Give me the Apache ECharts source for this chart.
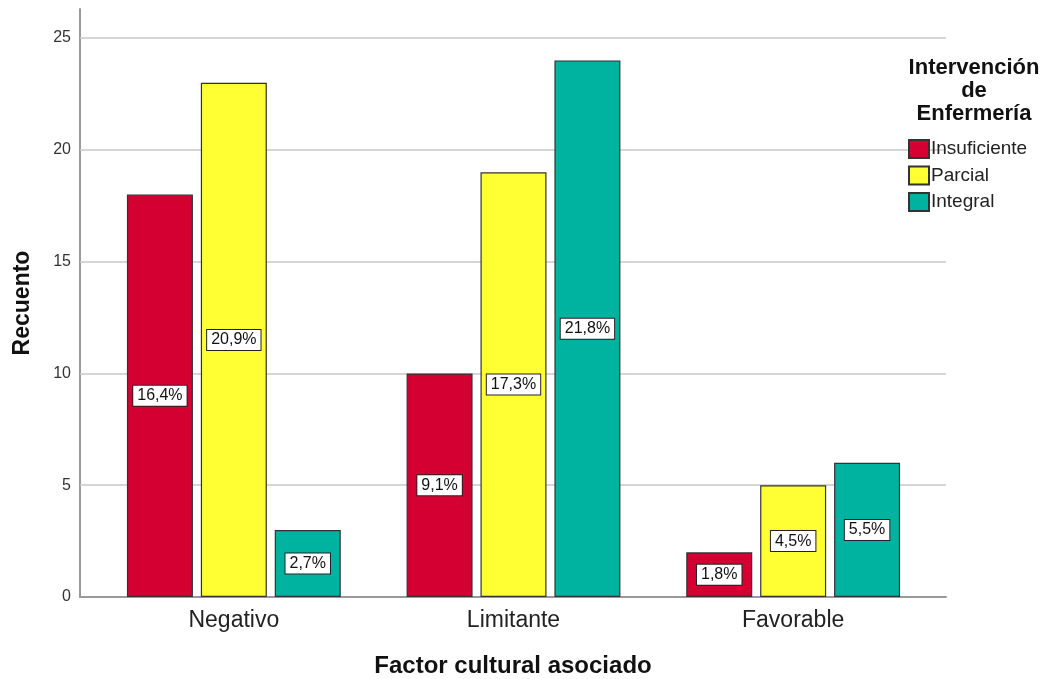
<!DOCTYPE html>
<html>
<head>
<meta charset="utf-8">
<script src="https://cdn.jsdelivr.net/npm/echarts@6/dist/echarts.min.js"></script>
<style>html,body{margin:0;padding:0;background:#fff}#c{width:1051px;height:679px}</style>
</head>
<body>
<div id="c"></div>
<script>
const categories = ['Negativo', 'Limitante', 'Favorable'];
const seriesNames = ['Insuficiente', 'Parcial', 'Integral'];
const insuficiente = [18, 10, 2];
const parcial = [23, 19, 5];
const integral = [3, 24, 6];
const yTicks = [0, 5, 10, 15, 20, 25];
const colors = ['#D40032', '#FFFF33', '#00B3A0'];

const allData = [insuficiente, parcial, integral];
const total = allData.flat().reduce((a, b) => a + b, 0);
const FONT = '"Liberation Sans", Arial, sans-serif';
const YMAX = 26.3;

const chart = echarts.init(document.getElementById('c'));

const barSeries = allData.map((d, i) => ({
  name: seriesNames[i],
  type: 'bar',
  xAxisIndex: 1,
  yAxisIndex: 1,
  data: d,
  barWidth: 66,
  barGap: '12%',
  itemStyle: { color: colors[i], borderColor: '#333', borderWidth: 1.2 },
  label: {
    show: true,
    position: 'inside',
    formatter: p => (p.value / total * 100).toFixed(1).replace('.', ',') + '%',
    backgroundColor: '#fff',
    borderColor: '#222',
    borderWidth: 1,
    padding: [2, 4, 1, 4],
    fontSize: 16,
    lineHeight: 17,
    fontFamily: FONT,
    color: '#111'
  },
  emphasis: { disabled: true },
  z: 10
}));

chart.setOption({
  animation: false,
  textStyle: { fontFamily: FONT },
  title: {
    text: 'Intervención\nde\nEnfermería',
    left: 969,
    top: 51,
    textAlign: 'center',
    textStyle: { fontSize: 22, fontWeight: 'bold', color: '#111', lineHeight: 23, fontFamily: FONT }
  },
  legend: {
    orient: 'vertical',
    left: 908,
    top: 139,
    padding: 0,
    itemWidth: 20,
    itemHeight: 18,
    itemGap: 6.5,
    icon: 'rect',
    data: seriesNames,
    textStyle: { fontSize: 19, color: '#222', fontFamily: FONT, padding: [4, 0, 0, -3] },
    selectedMode: false
  },
  grid: [
    { left: 80, right: 105, top: 9, bottom: 82, containLabel: false, outerBoundsMode: 'none' },
    { left: 94, right: 118, top: 9, bottom: 82, containLabel: false, outerBoundsMode: 'none' }
  ],
  xAxis: [
    {
      gridIndex: 0, type: 'value', min: 0, max: 1,
      axisLine: { show: true, lineStyle: { color: '#999', width: 2 } },
      axisTick: { show: false }, axisLabel: { show: false }, splitLine: { show: false },
      name: 'Factor cultural asociado', nameLocation: 'middle', nameGap: 57,
      nameTextStyle: { fontSize: 24, fontWeight: 'bold', color: '#111', fontFamily: FONT }
    },
    {
      gridIndex: 1, type: 'category', data: categories,
      axisLine: { show: false }, axisTick: { show: false },
      axisLabel: { fontSize: 23, color: '#222', margin: 12, fontFamily: FONT }
    }
  ],
  yAxis: [
    {
      gridIndex: 0, type: 'value', min: 0, max: YMAX, interval: 5,
      axisLine: { show: true, lineStyle: { color: '#999', width: 2 } },
      axisTick: { show: false },
      axisLabel: { fontSize: 16, color: '#333', margin: 9, fontFamily: FONT,
        formatter: v => yTicks.includes(v) ? String(v) : '' },
      splitLine: { show: false },
      name: 'Recuento', nameLocation: 'middle', nameGap: 46,
      nameTextStyle: { fontSize: 23, fontWeight: 'bold', color: '#111', fontFamily: FONT }
    },
    {
      gridIndex: 1, type: 'value', min: 0, max: YMAX, show: false
    }
  ],
  series: [
    {
      type: 'line', xAxisIndex: 0, yAxisIndex: 0, data: [], silent: true,
      markLine: {
        silent: true, symbol: 'none', label: { show: false }, z: 1,
        lineStyle: { color: '#c8c8c8', width: 1.5, type: 'solid' },
        data: yTicks.filter(v => v > 0).map(v => ({ yAxis: v }))
      },
      z: 1
    },
    ...barSeries
  ]
});
</script>
</body>
</html>
